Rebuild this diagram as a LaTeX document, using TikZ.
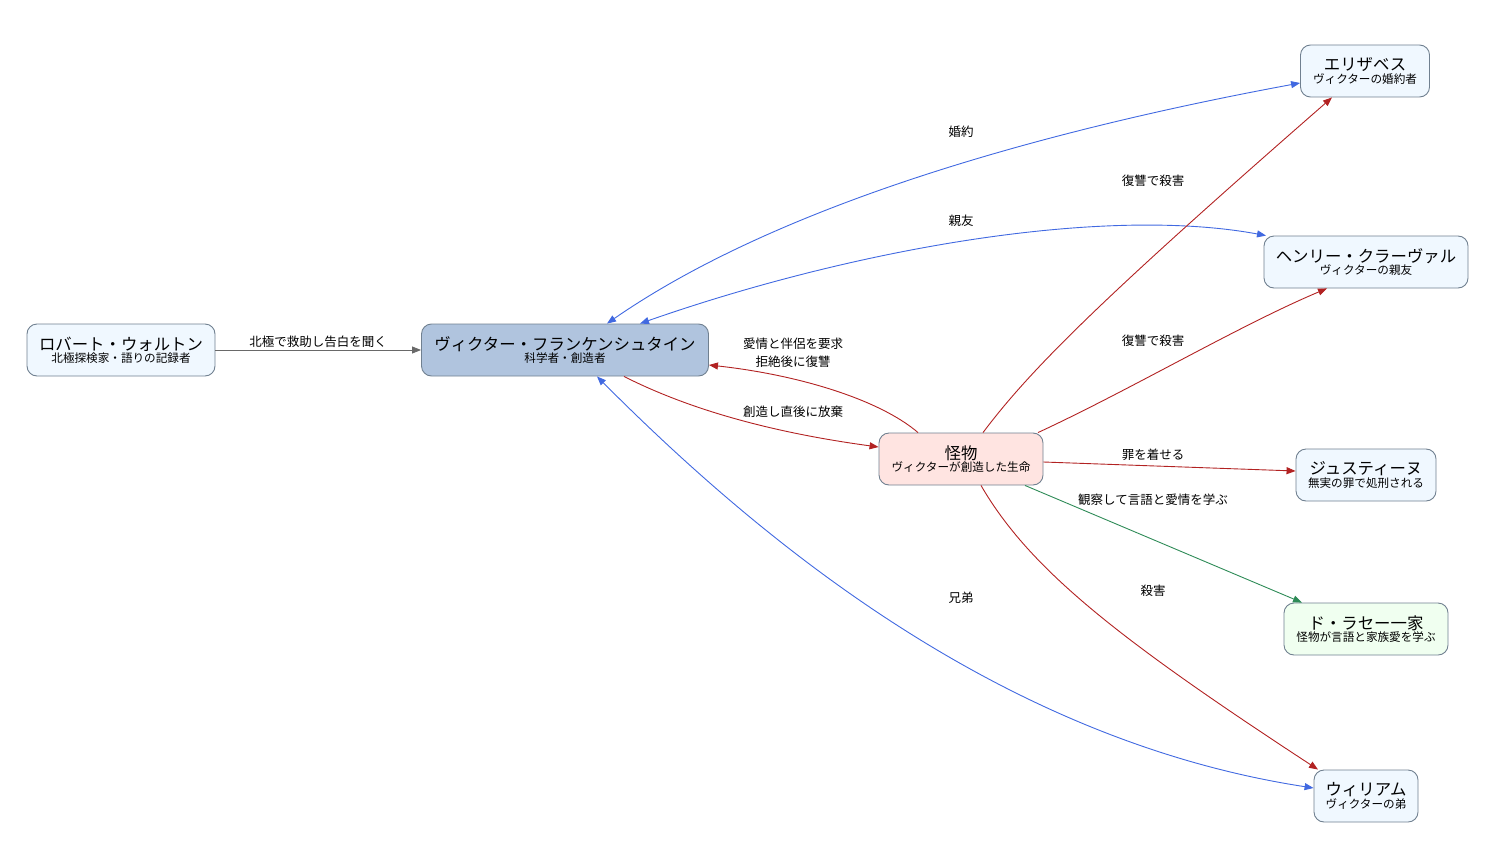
\documentclass[tikz,border=0pt]{standalone}
\usepackage{fontspec}
\setmainfont{Noto Sans CJK JP}
\usetikzlibrary{arrows.meta}

\definecolor{slateline}{HTML}{708090}
\definecolor{steelfill}{HTML}{B0C4DE}
\definecolor{rosefill}{HTML}{FFE4E1}
\definecolor{alicefill}{HTML}{F0F8FF}
\definecolor{dewfill}{HTML}{F0FFF0}
\definecolor{royal}{HTML}{4169E1}
\definecolor{brick}{HTML}{B22222}
\definecolor{sea}{HTML}{2E8B57}
\definecolor{dimline}{HTML}{696969}

% 人物框: 名前 + 説明
\newcommand{\rolebox}[2]{{\fontsize{16.4}{12.4}\selectfont #1}\\#2}

\begin{document}
\begin{tikzpicture}[x=1pt, y=-1pt,
    role/.style={draw=slateline, line width=0.9pt, rounded corners=10pt, minimum height=52pt,
        inner sep=0pt, align=center, font=\fontsize{11.6}{12.4}\selectfont},
    elabel/.style={font=\fontsize{12.5}{18}\selectfont, align=center},
    rel/.style={-{Triangle[length=9pt,width=7pt]}, line width=0.9pt},
    mutual/.style={{Triangle[length=9pt,width=7pt]}-{Triangle[length=9pt,width=7pt]}, line width=0.9pt}]
    \useasboundingbox (0,0) rectangle (1495,864);

    % 人物
    \node[role, fill=alicefill, minimum width=188pt] (walton) at (121,350) {\rolebox{ロバート・ウォルトン}{北極探検家・語りの記録者}};
    \node[role, fill=steelfill, minimum width=287pt] (victor) at (565,350) {\rolebox{ヴィクター・フランケンシュタイン}{科学者・創造者}};
    \node[role, fill=rosefill, minimum width=164pt] (monster) at (961,459) {\rolebox{怪物}{ヴィクターが創造した生命}};
    \node[role, fill=alicefill, minimum width=129pt] (elizabeth) at (1365,71) {\rolebox{エリザベス}{ヴィクターの婚約者}};
    \node[role, fill=alicefill, minimum width=204pt] (henry) at (1366,262) {\rolebox{ヘンリー・クラーヴァル}{ヴィクターの親友}};
    \node[role, fill=alicefill, minimum width=140pt] (justine) at (1366,475) {\rolebox{ジュスティーヌ}{無実の罪で処刑される}};
    \node[role, fill=dewfill, minimum width=164pt] (delacey) at (1366,629) {\rolebox{ド・ラセー一家}{怪物が言語と家族愛を学ぶ}};
    \node[role, fill=alicefill, minimum width=104pt] (william) at (1366,796) {\rolebox{ウィリアム}{ヴィクターの弟}};

    % 关系线
    \draw[rel, color=dimline] (walton.east) -- (victor.west);
    \draw[rel, color=brick] ([xshift=59pt]victor.south) .. controls (700,415) and (790,435) .. ([yshift=12pt]monster.west);
    \draw[rel, color=brick] ([xshift=-43pt]monster.north) .. controls (880,400) and (800,375) .. ([yshift=-15pt]victor.east);
    \draw[mutual, color=royal] ([xshift=42pt]victor.north) .. controls (800,190) and (1100,120) .. ([yshift=-12pt]elizabeth.west);
    \draw[mutual, color=royal] ([xshift=75pt]victor.north) .. controls (850,250) and (1100,205) .. ([xshift=-100pt]henry.north);
    \draw[mutual, color=royal] ([xshift=32pt]victor.south) .. controls (760,540) and (1000,740) .. ([yshift=8pt]william.west);
    \draw[rel, color=brick] ([xshift=22pt]monster.north) .. controls (1030,370) and (1100,300) .. ([xshift=-33pt]elizabeth.south);
    \draw[rel, color=brick] ([xshift=77pt]monster.north) .. controls (1130,390) and (1240,325) .. ([xshift=-39pt]henry.south);
    \draw[rel, color=brick] ([yshift=-3pt]monster.east) -- ([yshift=4pt]justine.west);
    \draw[rel, color=sea] ([xshift=64pt]monster.south) -- ([xshift=-64pt]delacey.north);
    \draw[rel, color=brick] ([xshift=20pt]monster.south) .. controls (1030,570) and (1120,640) .. ([xshift=-48pt]william.north);

    % 关系标签
    \node[elabel] (lrescue) at (318,342) {北極で救助し告白を聞く};
    \node[elabel] (ldemand) at (793,353) {愛情と伴侶を要求\\拒絶後に復讐};
    \node[elabel] (labandon) at (793,412) {創造し直後に放棄};
    \node[elabel] (lengage) at (961,132) {婚約};
    \node[elabel] (lfriend) at (961,221) {親友};
    \node[elabel] (lbrother) at (961,598) {兄弟};
    \node[elabel] (lrevenge1) at (1153,181) {復讐で殺害};
    \node[elabel] (lrevenge2) at (1153,341) {復讐で殺害};
    \node[elabel] (lframe) at (1153,455) {罪を着せる};
    \node[elabel] (llearn) at (1153,500) {観察して言語と愛情を学ぶ};
    \node[elabel] (lkill) at (1153,591) {殺害};
\end{tikzpicture}
\end{document}
